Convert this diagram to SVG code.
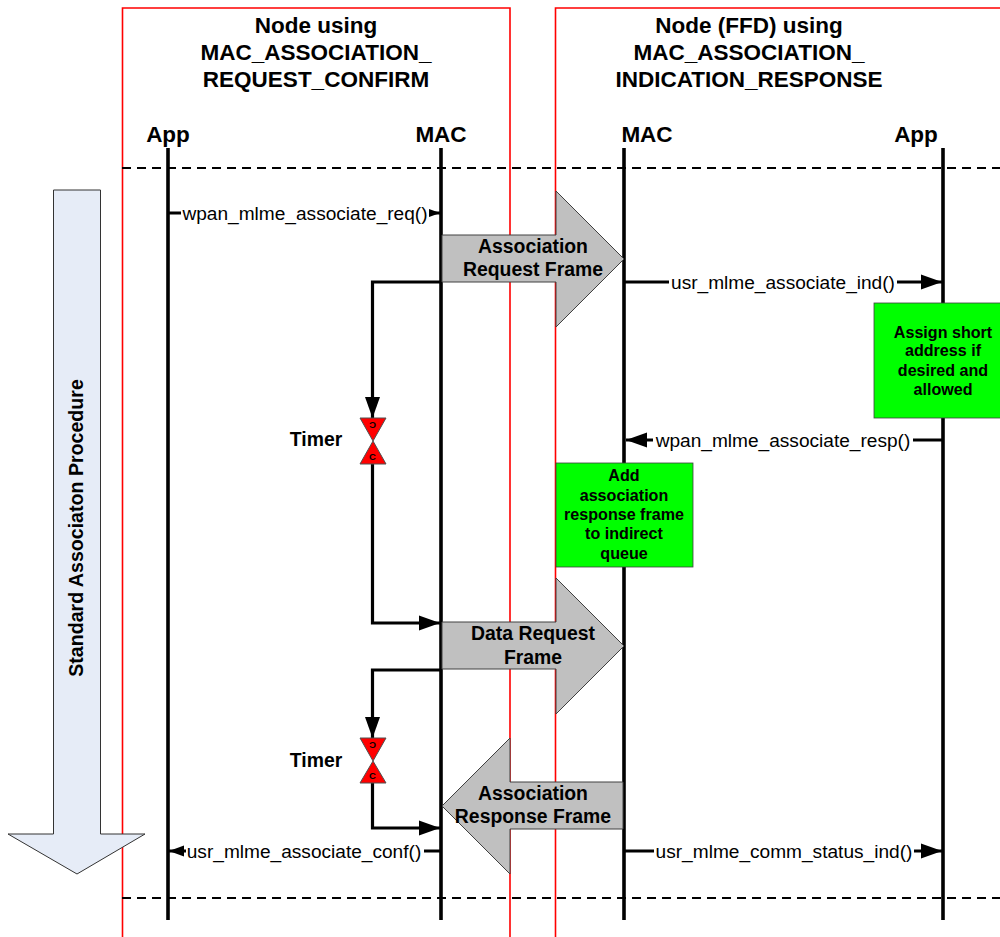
<svg xmlns="http://www.w3.org/2000/svg" width="1000" height="937" viewBox="0 0 1000 937">
<style>
text{font-family:"Liberation Sans",Arial,sans-serif;fill:#000;text-anchor:middle}
.h{font-size:22.5px;font-weight:bold}
.t{font-size:19.4px;font-weight:bold}
.m{font-size:19.1px}
.g{font-size:16.1px;font-weight:bold}
.p{font-size:19.6px;font-weight:bold}
.r{fill:none;stroke:#f00;stroke-width:1.6}
.d{fill:none;stroke:#000;stroke-width:2;stroke-dasharray:9 6}
.l{fill:none;stroke:#000;stroke-width:3.6}
.c{fill:none;stroke:#000;stroke-width:3.2}
.a{fill:#c0c0c0;stroke:#404040;stroke-width:1}
.b{fill:#0f0;stroke:#404040;stroke-width:.8}
.v{fill:#f00;stroke:#505050;stroke-width:1}
.k{font-size:9.500px;font-weight:bold;fill:#000}
</style>
<defs>
<marker id="ah" markerUnits="userSpaceOnUse" markerWidth="22" markerHeight="16" refX="21" refY="8" orient="auto"><path d="M0 .5 L21 8 L0 15.500 Z" fill="#000"/></marker>
<marker id="as" markerUnits="userSpaceOnUse" markerWidth="16" markerHeight="12" refX="15" refY="6" orient="auto"><path d="M0 .5 L15 6 L0 11.500 Z" fill="#000"/></marker>
</defs>
<rect width="1000" height="937" fill="#fff"/>
<g id="frames">
<path class="r" d="M122.500 937V8H510V937"/>
<path class="r" d="M555.500 937V8H1000"/>
<path class="d" d="M122 168H1000"/>
<path class="d" d="M122 898H1000"/>
</g>
<g id="procedure">
<path d="M53.500 190H100.500V834H145L77 874L8 834H53.500Z" fill="#e6ecf7" stroke="#333" stroke-width="1"/>
<text class="p" transform="translate(83 528) rotate(-90)">Standard Associaton Procedure</text>
</g>
<g id="titles">
<text class="h" x="316" y="33">Node using</text>
<text class="h" x="316" y="60">MAC_ASSOCIATION_</text>
<text class="h" x="316" y="87">REQUEST_CONFIRM</text>
<text class="h" x="749" y="33">Node (FFD) using</text>
<text class="h" x="749" y="60">MAC_ASSOCIATION_</text>
<text class="h" x="749" y="87">INDICATION_RESPONSE</text>
</g>
<g id="lifelines">
<g id="app-left"><text class="h" x="168" y="142">App</text><path class="l" d="M168 148V920"/></g>
<g id="mac-left"><text class="h" x="441" y="142">MAC</text><path class="l" d="M441 148V920"/></g>
<g id="mac-right"><text class="h" x="647" y="142">MAC</text><path class="l" d="M624 148V920"/></g>
<g id="app-right"><text class="h" x="916" y="142">App</text><path class="l" d="M943 148V920"/></g>
</g>
<g id="connectors">
<path class="c" d="M169 213H440" marker-end="url(#as)"/>
<path class="c" d="M625 282H942" marker-end="url(#ah)"/>
<path class="c" d="M943 440H626" marker-end="url(#ah)"/>
<path class="c" d="M625 851H942" marker-end="url(#ah)"/>
<path class="c" d="M441 851H169" marker-end="url(#as)"/>
<path class="c" d="M441 282H372.500V418" marker-end="url(#ah)"/>
<path class="c" d="M372.500 464V623H440" marker-end="url(#ah)"/>
<path class="c" d="M441 670H372.500V738" marker-end="url(#ah)"/>
<path class="c" d="M372.500 783V828H440" marker-end="url(#ah)"/>
</g>
<g id="message-labels">
<rect x="181" y="203" width="248" height="20" fill="#fff"/>
<text class="m" x="305" y="220">wpan_mlme_associate_req()</text>
<rect x="669" y="272" width="228" height="20" fill="#fff"/>
<text class="m" x="783" y="289">usr_mlme_associate_ind()</text>
<rect x="653" y="430" width="260" height="20" fill="#fff"/>
<text class="m" x="783" y="447">wpan_mlme_associate_resp()</text>
<rect x="654" y="841" width="260" height="20" fill="#fff"/>
<text class="m" x="784" y="858">usr_mlme_comm_status_ind()</text>
<rect x="186" y="841" width="238" height="20" fill="#fff"/>
<text class="m" x="304" y="858">usr_mlme_associate_conf()</text>
</g>
<g id="assoc-request-frame">
<path class="a" d="M442 235H556V191L624 259L556 327V282H442Z"/>
<text class="t" x="533" y="253">Association</text>
<text class="t" x="533" y="276">Request Frame</text>
</g>
<g id="data-request-frame">
<path class="a" d="M442 622H556V578L624 646L556 714V669H442Z"/>
<text class="t" x="533" y="640">Data Request</text>
<text class="t" x="533" y="664">Frame</text>
</g>
<g id="assoc-response-frame">
<path class="a" d="M623 782H510V738L442 806L510 874V829H623Z"/>
<text class="t" x="533" y="800">Association</text>
<text class="t" x="533" y="823">Response Frame</text>
</g>
<g id="assign-box">
<rect class="b" x="874" y="303" width="127" height="115"/>
<text class="g" x="943" y="338">Assign short</text>
<text class="g" x="943" y="356">address if</text>
<text class="g" x="943" y="376">desired and</text>
<text class="g" x="943" y="395">allowed</text>
</g>
<g id="add-box">
<rect class="b" x="556" y="463" width="137" height="104"/>
<text class="g" x="624" y="481">Add</text>
<text class="g" x="624" y="501">association</text>
<text class="g" x="624" y="520">response frame</text>
<text class="g" x="624" y="539">to indirect</text>
<text class="g" x="624" y="559">queue</text>
</g>
<g id="timer-1">
<path class="v" d="M360 418H386L373 441Z"/><path class="v" d="M373 441L386 464H360Z"/>
<text class="k" transform="translate(372.500 422) rotate(180)">C</text>
<text class="k" x="372.500" y="460">C</text>
<text class="t" x="316" y="446">Timer</text>
</g>
<g id="timer-2">
<path class="v" d="M360 738H386L373 761Z"/><path class="v" d="M373 761L386 783H360Z"/>
<text class="k" transform="translate(372.500 742) rotate(180)">C</text>
<text class="k" x="372.500" y="779">C</text>
<text class="t" x="316" y="767">Timer</text>
</g>
</svg>
